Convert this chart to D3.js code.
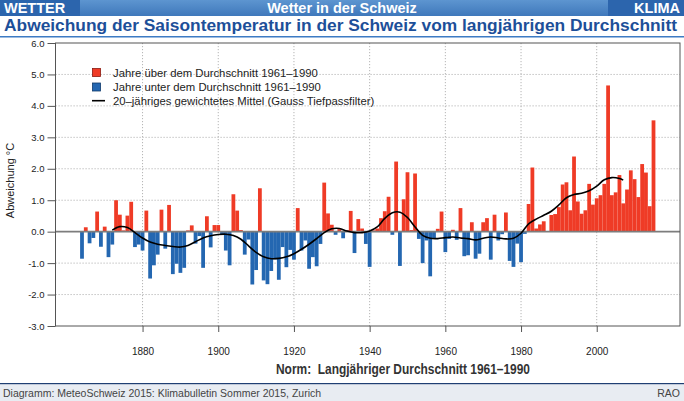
<!DOCTYPE html>
<html>
<head>
<meta charset="utf-8">
<script src="https://cdn.jsdelivr.net/npm/d3@7"></script>
<style>
  html, body { margin: 0; padding: 0; background: #fff; }
  svg { display: block; font-family: "Liberation Sans", Arial, sans-serif; }
</style>
</head>
<body>
<div id="chart"></div>
<script>
// summer temperature anomaly vs 1961-1990, one value per year from 1864
const firstYear = 1864;
const anomalies = [
  -0.86, 0.14, -0.37, -0.20, 0.64, -0.48, 0.16, -0.81, -0.41, 1.00,   // 1864-1873
  0.54, 0.04, 0.51, 0.95, -0.49, -0.41, -0.60, 0.67, -1.49, -1.07,    // 1874-1883
  -0.73, 0.70, -0.54, 0.85, -1.35, -1.02, -1.31, -1.15, 0.04, 0.20,   // 1884-1893
  -0.38, -0.14, -1.15, 0.49, -0.50, 0.21, 0.21, -0.10, -0.60, -1.07,  // 1894-1903
  1.19, 0.67, 0.05, -0.73, -0.25, -1.68, -1.22, 1.38, -1.55, -1.67,   // 1904-1913
  -1.25, -0.88, -1.53, -0.49, -1.13, -0.58, -0.89, 0.75, -0.60, -0.28,// 1914-1923
  -1.18, -0.81, -1.10, -0.39, 1.56, 0.58, 0.22, -0.10, 0.08, -0.21,   // 1924-1933
  0.05, 0.66, -0.68, 0.40, 0.10, -0.39, -1.12, 0.04, 0.10, 0.43,      // 1934-1943
  0.65, 1.11, -0.10, 2.23, -1.09, 1.03, 1.89, 0.05, 1.85, -0.23,      // 1944-1953
  -1.00, -0.28, -1.42, -0.20, 0.09, 0.64, -0.65, -0.23, 0.06, -0.26,  // 1954-1963
  0.75, -0.78, -0.75, 0.30, -0.86, -0.70, 0.30, 0.43, -0.89, 0.54,    // 1964-1973
  -0.28, -0.08, 0.61, -0.93, -1.12, -0.38, -0.97, -0.07, 0.88, 2.04,  // 1974-1983
  0.10, 0.23, 0.33, 0.02, 0.53, 0.56, 0.78, 1.50, 1.57, 0.68,         // 1984-1993
  2.39, 0.96, 0.57, 0.68, 1.52, 0.86, 1.06, 1.16, 1.52, 4.65,         // 1994-2003
  1.16, 1.25, 1.80, 0.90, 1.34, 1.95, 1.67, 1.10, 2.15, 1.88,         // 2004-2013
  0.81, 3.54                                                          // 2014-2015
];

// 20-year Gaussian low-pass
const trendYears = [
  1872, 1874, 1876, 1878, 1880, 1882, 1884, 1886, 1888, 1890,
  1892, 1894, 1896, 1898, 1900, 1902, 1904, 1906, 1908, 1910,
  1912, 1914, 1916, 1918, 1920, 1922, 1924, 1926, 1928, 1930,
  1932, 1934, 1936, 1938, 1940, 1942, 1944, 1946, 1948, 1950,
  1952, 1954, 1956, 1958, 1960, 1962, 1964, 1966, 1968, 1970,
  1972, 1974, 1976, 1978, 1980, 1982, 1984, 1986, 1988, 1990,
  1992, 1994, 1996, 1998, 2000, 2002, 2004, 2006, 2007
];
const trendValues = [
  0.05, 0.16, 0.13, -0.03, -0.20, -0.33, -0.40, -0.44, -0.47, -0.49,
  -0.44, -0.32, -0.20, -0.13, -0.09, -0.08, -0.12, -0.24, -0.45, -0.66,
  -0.80, -0.86, -0.85, -0.80, -0.70, -0.56, -0.40, -0.22, -0.03, 0.09,
  0.10, 0.02, -0.03, -0.03, 0.02, 0.15, 0.42, 0.60, 0.62, 0.45,
  0.15, -0.12, -0.21, -0.22, -0.19, -0.17, -0.20, -0.22, -0.26, -0.21,
  -0.17, -0.20, -0.23, -0.21, -0.05, 0.25, 0.40, 0.52, 0.65, 0.85,
  1.08, 1.18, 1.22, 1.30, 1.45, 1.65, 1.72, 1.69, 1.64
];

const xTicks = [1880, 1900, 1920, 1940, 1960, 1980, 2000];
const yTicks = [-3, -2, -1, 0, 1, 2, 3, 4, 5, 6];

const legendLabels = [
  'Jahre über dem Durchschnitt 1961–1990',
  'Jahre unter dem Durchschnitt 1961–1990',
  '20–jähriges gewichtetes Mittel (Gauss Tiefpassfilter)'
];

const width = 684;
const height = 401;
const plot = { left: 55.5, right: 680, top: 43, bottom: 326 };

const red = '#ef3b26';
const blue = '#2467b1';

const svg = d3.select('#chart')
  .append('svg')
  .attr('width', width)
  .attr('height', height)
  .attr('viewBox', `0 0 ${width} ${height}`);

// ---- header bands
const defs = svg.append('defs');
const grad = defs.append('linearGradient').attr('id', 'hdr').attr('x1', 0).attr('x2', 0).attr('y1', 0).attr('y2', 1);
grad.append('stop').attr('offset', '0%').attr('stop-color', '#5d95d0');
grad.append('stop').attr('offset', '100%').attr('stop-color', '#3f78bb');

svg.append('rect').attr('x', 0).attr('y', 0).attr('width', width).attr('height', 16).attr('fill', 'url(#hdr)');
svg.append('rect').attr('x', 0).attr('y', 0).attr('width', 80).attr('height', 16).attr('fill', '#2c65ad');
svg.append('rect').attr('x', 608).attr('y', 0).attr('width', 76).attr('height', 16).attr('fill', '#2c65ad');

const hdrText = (x, anchor, txt) => svg.append('text')
  .attr('x', x).attr('y', 13)
  .attr('text-anchor', anchor)
  .attr('fill', '#fff')
  .style('font-weight', 'bold')
  .style('font-size', '14.5px')
  .text(txt);
hdrText(4, 'start', 'WETTER');
hdrText(342, 'middle', 'Wetter in der Schweiz');
hdrText(680, 'end', 'KLIMA');

svg.append('text')
  .attr('x', 4).attr('y', 31)
  .attr('fill', '#1d4f99')
  .attr('textLength', 673)
  .attr('lengthAdjust', 'spacingAndGlyphs')
  .style('font-weight', 'bold')
  .style('font-size', '17.4px')
  .text('Abweichung der Saisontemperatur in der Schweiz vom langjährigen Durchschnitt');

svg.append('rect').attr('x', 0).attr('y', 36).attr('width', width).attr('height', 1.5).attr('fill', '#3d7bc4');

// ---- scales
const xScale = d3.scaleLinear().domain([1857, 2022]).range([plot.left, plot.right]);
const yScale = d3.scaleLinear().domain([-3, 6]).range([plot.bottom, plot.top]);

// gridlines
const grid = svg.append('g').attr('class', 'grid')
  .attr('stroke', '#b5b5b5').attr('stroke-width', 1).attr('stroke-dasharray', '1.2,1.8');
grid.selectAll('line.h')
  .data(yTicks.filter(d => d !== 0 && d !== 6 && d !== -3))
  .join('line')
  .attr('class', 'h')
  .attr('x1', plot.left).attr('x2', plot.right)
  .attr('y1', d => yScale(d)).attr('y2', d => yScale(d));
grid.selectAll('line.v')
  .data(xTicks)
  .join('line')
  .attr('class', 'v')
  .attr('x1', d => xScale(d)).attr('x2', d => xScale(d))
  .attr('y1', plot.top).attr('y2', plot.bottom);

// bars
const bars = anomalies.map((v, i) => ({ year: firstYear + i, value: v }));
svg.append('g').attr('class', 'bars')
  .selectAll('rect')
  .data(bars)
  .join('rect')
  .attr('x', d => xScale(d.year - 0.5))
  .attr('width', d => xScale(d.year + 0.5) - xScale(d.year - 0.5))
  .attr('y', d => yScale(Math.max(0, d.value)))
  .attr('height', d => Math.abs(yScale(d.value) - yScale(0)))
  .attr('fill', d => d.value >= 0 ? red : blue);

// zero line
svg.append('line')
  .attr('x1', plot.left).attr('x2', plot.right)
  .attr('y1', yScale(0)).attr('y2', yScale(0))
  .attr('stroke', '#7d7d7d').attr('stroke-width', 1.6);

// smoothed curve
const trend = trendYears.map((yr, i) => [yr, trendValues[i]]);
svg.append('path')
  .datum(trend)
  .attr('fill', 'none')
  .attr('stroke', '#000')
  .attr('stroke-width', 1.6)
  .attr('d', d3.line().x(d => xScale(d[0])).y(d => yScale(d[1])).curve(d3.curveCatmullRom));

// frame
svg.append('rect')
  .attr('x', plot.left).attr('y', plot.top)
  .attr('width', plot.right - plot.left).attr('height', plot.bottom - plot.top)
  .attr('fill', 'none').attr('stroke', '#555').attr('stroke-width', 1);

// axes
const yAxis = d3.axisLeft(yScale).tickValues(yTicks).tickSize(8).tickPadding(3)
  .tickFormat(d => d.toFixed(1));
const gy = svg.append('g').attr('transform', `translate(${plot.left},0)`).call(yAxis);
gy.select('.domain').remove();
gy.selectAll('line').attr('stroke', '#555');
gy.selectAll('text').attr('fill', '#222').style('font-size', '9.5px').style('font-family', '"Liberation Sans", Arial, sans-serif');

const xAxis = d3.axisBottom(xScale).tickValues(xTicks).tickSize(6).tickPadding(16)
  .tickFormat(d3.format('d'));
const gx = svg.append('g').attr('transform', `translate(0,${plot.bottom})`).call(xAxis);
gx.select('.domain').remove();
gx.selectAll('line').attr('stroke', '#555');
gx.selectAll('text').attr('fill', '#222').style('font-size', '10px').style('font-family', '"Liberation Sans", Arial, sans-serif');

svg.append('text')
  .attr('transform', `translate(14,${(plot.top + plot.bottom) / 2 - 4}) rotate(-90)`)
  .attr('text-anchor', 'middle')
  .attr('fill', '#222')
  .style('font-size', '11px')
  .text('Abweichung °C');

// legend
const legend = svg.append('g').attr('transform', 'translate(92,0)');
legend.append('rect').attr('x', 0.5).attr('y', 68.5).attr('width', 8).attr('height', 8)
  .attr('fill', red).attr('stroke', '#8a1a10').attr('stroke-width', 0.8);
legend.append('rect').attr('x', 0.5).attr('y', 83).attr('width', 8).attr('height', 8)
  .attr('fill', blue).attr('stroke', '#103a6a').attr('stroke-width', 0.8);
legend.append('line').attr('x1', 0).attr('x2', 13).attr('y1', 100.7).attr('y2', 100.7)
  .attr('stroke', '#000').attr('stroke-width', 1.6);
legend.selectAll('text.lab')
  .data(legendLabels)
  .join('text')
  .attr('class', 'lab')
  .attr('x', 21)
  .attr('y', (d, i) => 76.8 + i * 14.2)
  .attr('fill', '#222')
  .style('font-size', '11.3px')
  .text(d => d);

// norm note
svg.append('text')
  .attr('x', 403).attr('y', 374)
  .attr('text-anchor', 'middle')
  .attr('fill', '#333')
  .attr('textLength', 254)
  .attr('lengthAdjust', 'spacingAndGlyphs')
  .style('font-weight', 'bold')
  .style('font-size', '14.5px')
  .style('white-space', 'pre')
  .text('Norm:  Langjähriger Durchschnitt 1961–1990');

// footer
svg.append('rect').attr('x', 0).attr('y', 384).attr('width', width).attr('height', 17).attr('fill', '#e8ecf2');
svg.append('rect').attr('x', 0).attr('y', 383).attr('width', width).attr('height', 1.2).attr('fill', '#1f3f73');
svg.append('text')
  .attr('x', 3).attr('y', 397)
  .attr('fill', '#444')
  .style('font-size', '10.5px')
  .text('Diagramm: MeteoSchweiz 2015: Klimabulletin Sommer 2015, Zurich');
svg.append('text')
  .attr('x', 680).attr('y', 397)
  .attr('text-anchor', 'end')
  .attr('fill', '#444')
  .style('font-size', '10.5px')
  .text('RAO');
</script>
</body>
</html>
